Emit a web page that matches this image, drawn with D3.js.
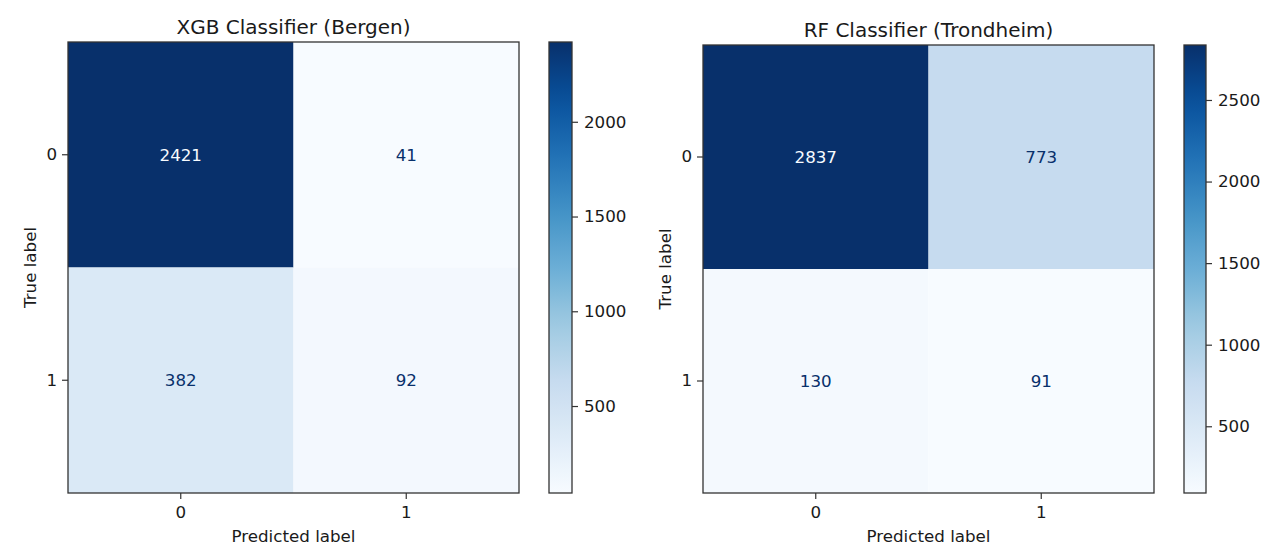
<!DOCTYPE html>
<html><head><meta charset="utf-8">
<script src="https://cdn.jsdelivr.net/npm/d3@7"></script>
<style>
body{margin:0;background:#fff}
text{font-family:"DejaVu Sans",sans-serif}
</style>
</head><body>
<svg id="c" width="1280" height="557"></svg>
<script>
// ---- data ----
const classLabels = ["0", "1"];
const panelTitles = ["XGB Classifier (Bergen)", "RF Classifier (Trondheim)"];
const bergenMatrix = [[2421, 41], [382, 92]];
const trondheimMatrix = [[2837, 773], [130, 91]];
const bergenCbarTicks = [500, 1000, 1500, 2000];
const trondheimCbarTicks = [500, 1000, 1500, 2000, 2500];
const xAxisTitle = "Predicted label";
const yAxisTitle = "True label";
const bluesStops = ["#f7fbff","#deebf7","#c6dbef","#9ecae1","#6baed6","#4292c6","#2171b5","#08519c","#08306b"];

// ---- layout ----
const panels = [
  {matrix: bergenMatrix, ticks: bergenCbarTicks, title: panelTitles[0], x0: 68, y0: 42, w: 451, h: 451, cbX: 549, cbW: 23},
  {matrix: trondheimMatrix, ticks: trondheimCbarTicks, title: panelTitles[1], x0: 703, y0: 45, w: 451, h: 448, cbX: 1184, cbW: 22}
];
const svg = d3.select("#c");
const defs = svg.append("defs");
const FS = 16.7, TFS = 20, lineCol = "#333", txtCol = "#1a1a1a";

panels.forEach((p, pi) => {
  const flat = p.matrix.flat();
  const vmin = d3.min(flat), vmax = d3.max(flat);
  const color = d3.scaleLinear()
    .domain(bluesStops.map((_, i) => vmin + i * (vmax - vmin) / (bluesStops.length - 1)))
    .range(bluesStops).interpolate(d3.interpolateRgb);
  const x = d3.scaleBand().domain(classLabels).range([p.x0, p.x0 + p.w]);
  const y = d3.scaleBand().domain(classLabels).range([p.y0, p.y0 + p.h]);
  const thresh = (vmax + vmin) / 2;
  const cells = [];
  p.matrix.forEach((row, i) => row.forEach((v, j) => cells.push({t: classLabels[i], pr: classLabels[j], v})));

  const g = svg.append("g");
  g.selectAll("rect.cell").data(cells).join("rect").attr("class", "cell")
    .attr("x", d => x(d.pr)).attr("y", d => y(d.t))
    .attr("width", x.bandwidth()).attr("height", y.bandwidth())
    .attr("fill", d => color(d.v));
  g.selectAll("text.val").data(cells).join("text").attr("class", "val")
    .attr("x", d => x(d.pr) + x.bandwidth() / 2).attr("y", d => y(d.t) + y.bandwidth() / 2)
    .attr("text-anchor", "middle").attr("dy", "0.35em").attr("font-size", FS)
    .attr("fill", d => d.v < thresh ? bluesStops[bluesStops.length - 1] : bluesStops[0])
    .text(d => d.v);
  g.append("rect").attr("x", p.x0).attr("y", p.y0).attr("width", p.w).attr("height", p.h)
    .attr("fill", "none").attr("stroke", lineCol).attr("stroke-width", 1.3);

  // axes
  const ax = g.append("g").attr("transform", `translate(0,${p.y0 + p.h})`)
    .call(d3.axisBottom(x).tickSize(6).tickPadding(7));
  const ay = g.append("g").attr("transform", `translate(${p.x0},0)`)
    .call(d3.axisLeft(y).tickSize(6).tickPadding(5));
  [ax, ay].forEach(a => {
    a.select(".domain").remove();
    a.selectAll(".tick line").attr("stroke", lineCol).attr("stroke-width", 1.2);
    a.selectAll(".tick text").attr("font-size", FS).attr("fill", txtCol).attr("font-family", "DejaVu Sans");
  });

  g.append("text").attr("x", p.x0 + p.w / 2).attr("y", p.y0 + p.h + 49)
    .attr("text-anchor", "middle").attr("font-size", FS).attr("fill", txtCol).text(xAxisTitle);
  g.append("text").attr("transform", `translate(${p.x0 - 32},${p.y0 + p.h / 2}) rotate(-90)`)
    .attr("text-anchor", "middle").attr("font-size", FS).attr("fill", txtCol).text(yAxisTitle);
  g.append("text").attr("x", p.x0 + p.w / 2).attr("y", p.y0 - 8)
    .attr("text-anchor", "middle").attr("font-size", TFS).attr("fill", txtCol).text(p.title);

  // colorbar
  const gid = "grad" + pi;
  const grad = defs.append("linearGradient").attr("id", gid)
    .attr("x1", 0).attr("y1", 1).attr("x2", 0).attr("y2", 0);
  d3.range(0, 1.0001, 0.05).forEach(t => grad.append("stop")
    .attr("offset", t).attr("stop-color", color(vmin + t * (vmax - vmin))));
  const cb = d3.scaleLinear().domain([vmin, vmax]).range([p.y0 + p.h, p.y0]);
  g.append("rect").attr("x", p.cbX).attr("y", p.y0).attr("width", p.cbW).attr("height", p.h)
    .attr("fill", `url(#${gid})`).attr("stroke", lineCol).attr("stroke-width", 1.3);
  const ac = g.append("g").attr("transform", `translate(${p.cbX + p.cbW},0)`)
    .call(d3.axisRight(cb).tickValues(p.ticks).tickFormat(d3.format("d")).tickSize(6).tickPadding(6));
  ac.select(".domain").remove();
  ac.selectAll(".tick line").attr("stroke", lineCol).attr("stroke-width", 1.2);
  ac.selectAll(".tick text").attr("font-size", FS).attr("fill", txtCol).attr("font-family", "DejaVu Sans");
});
</script>
</body></html>
